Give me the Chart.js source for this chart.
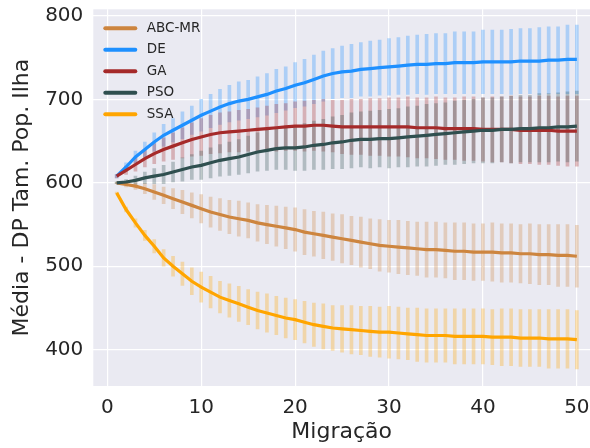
<!DOCTYPE html>
<html>
<head>
<meta charset="utf-8">
<script src="https://cdn.jsdelivr.net/npm/chart.js@4.4.0/dist/chart.umd.min.js"></script>
<style>
html, body { margin: 0; padding: 0; background: #ffffff; }
</style>
</head>
<body>
<canvas id="myChart" width="590" height="448"></canvas>
<script>
const migracao = [1,2,3,4,5,6,7,8,9,10,11,12,13,14,15,16,17,18,19,20,21,22,23,24,25,26,27,28,29,30,31,32,33,34,35,36,37,38,39,40,41,42,43,44,45,46,47,48,49,50]
const xTicks = [0, 10, 20, 30, 40, 50]
const yTicks = [400, 500, 600, 700, 800]

const series = ['ABC-MR', 'DE', 'GA', 'PSO', 'SSA']
const cores = ['#CD853F', '#1E90FF', '#A52A2A', '#2F4F4F', '#FFA500']

const abcMedia = [600,598,596,593,589,585,581,577,573,569,565,562,559,557,555,552,550,548,546,544,541,539,537,535,533,531,529,527,525,524,523,522,521,520,520,519,518,518,517,517,517,516,516,515,515,514,514,513,513,512]
const abcDP = [1,3,4,6,9,10,12,14,15,17,18,19,20,21,21,22,23,24,25,26,27,27,28,28,29,29,30,30,31,31,32,32,32,33,33,33,34,34,34,34,35,35,35,35,36,36,36,37,37,37]

const deMedia = [608,619,631,640,649,657,663,669,675,681,686,691,695,698,700,703,706,710,713,717,720,724,728,731,733,734,736,737,738,739,740,741,742,742,743,743,744,744,744,745,745,745,745,746,746,746,747,747,748,748]
const deDP = [2,5,7,9,11,13,14,16,17,19,20,21,22,23,23,24,25,26,26,27,28,29,30,30,31,32,32,33,33,34,34,35,35,36,36,36,37,37,37,38,38,38,39,39,39,40,40,40,41,41]

const gaMedia = [608,615,622,629,635,640,644,648,652,655,658,660,661,662,663,664,665,666,667,668,668,669,669,668,667,667,667,667,667,667,667,667,666,666,666,665,665,665,665,664,664,664,664,663,663,663,663,662,662,662]
const gaDP = [2,5,8,10,12,14,16,18,20,22,23,24,24,25,25,26,27,28,28,29,30,30,31,31,32,33,33,34,34,35,35,36,36,36,37,37,37,38,38,38,39,39,40,40,40,41,41,41,42,42]

const psoMedia = [600,601,603,606,608,610,613,616,619,621,624,627,629,631,634,637,639,641,642,642,643,645,646,648,649,651,652,652,653,653,654,655,656,657,658,659,660,661,662,663,663,664,664,665,665,666,666,667,667,668]
const psoDP = [1,3,5,7,9,11,12,14,15,17,18,19,20,21,22,23,24,25,26,27,28,29,30,31,32,33,33,34,34,35,35,36,36,37,37,37,38,38,38,39,39,39,40,40,40,41,41,41,42,42]

const ssaMedia = [588,568,552,537,524,510,500,491,482,475,469,463,459,455,451,447,444,441,438,436,433,430,428,426,425,424,423,422,421,421,420,419,418,417,417,417,416,416,416,416,415,415,415,414,414,414,413,413,413,412]
const ssaDP = [1,3,5,6,8,10,12,14,16,18,19,19,20,21,21,22,23,23,24,24,25,26,27,27,28,29,29,30,30,31,31,31,32,32,32,32,33,33,33,33,33,34,34,34,34,34,35,35,35,35]

const medias = [abcMedia, deMedia, gaMedia, psoMedia, ssaMedia]
const dps = [abcDP, deDP, gaDP, psoDP, ssaDP]

const FONTE = "'DejaVu Sans', sans-serif"
const TEXTO = '#262626'

function rgba(hex, a) {
    const n = parseInt(hex.slice(1), 16)
    return 'rgba(' + (n >> 16) + ',' + ((n >> 8) & 255) + ',' + (n & 255) + ',' + a + ')'
}

const datasets = []
series.forEach((nome, s) => {
    datasets.push({
        type: 'line',
        label: nome,
        data: migracao.map((x, i) => ({ x: x, y: medias[s][i] })),
        borderColor: cores[s],
        backgroundColor: cores[s],
        borderWidth: 3.2,
        pointRadius: 0,
        tension: 0,
        fill: false,
        order: 5 - s
    })
})
series.forEach((nome, s) => {
    datasets.push({
        type: 'bar',
        label: nome + ' DP',
        data: migracao.map((x, i) => ({ x: x, y: [medias[s][i] - dps[s][i], medias[s][i] + dps[s][i]] })),
        backgroundColor: rgba(cores[s], 0.3),
        borderWidth: 0,
        barThickness: 3,
        grouped: false,
        order: 20 - s
    })
})

// fundo cinza do seaborn
const fundo = {
    id: 'fundo',
    beforeDraw(chart) {
        const { ctx, chartArea: a } = chart
        ctx.save()
        ctx.fillStyle = '#EAEAF2'
        ctx.fillRect(a.left, a.top, a.right - a.left, a.bottom - a.top)
        ctx.restore()
    }
}

// legenda dentro da area do grafico, canto superior esquerdo
const legenda = {
    id: 'legenda',
    afterDraw(chart) {
        const { ctx, chartArea: a } = chart
        ctx.save()
        ctx.font = '13.5px ' + FONTE
        ctx.textBaseline = 'middle'
        ctx.lineCap = 'round'
        series.forEach((nome, s) => {
            const y = a.top + 19 + s * 21.5
            ctx.strokeStyle = cores[s]
            ctx.lineWidth = 4
            ctx.beginPath()
            ctx.moveTo(a.left + 12, y)
            ctx.lineTo(a.left + 42, y)
            ctx.stroke()
            ctx.fillStyle = TEXTO
            ctx.fillText(nome, a.left + 53.5, y)
        })
        ctx.restore()
    }
}

const config = {
    type: 'line',
    data: { datasets: datasets },
    options: {
        responsive: false,
        animation: false,
        devicePixelRatio: 1,
        layout: { padding: { top: 9.3, right: 0, bottom: 0, left: 0 } },
        plugins: { legend: { display: false }, tooltip: { enabled: false } },
        scales: {
            x: {
                type: 'linear',
                min: -1.49,
                max: 51.4,
                offset: false,
                grid: { color: '#ffffff', lineWidth: 1.2, drawTicks: false, offset: false },
                border: { display: false },
                afterBuildTicks: (scale) => { scale.ticks = xTicks.map(v => ({ value: v })) },
                ticks: { padding: 10, color: TEXTO, font: { family: FONTE, size: 20 } },
                title: { display: true, text: 'Migração', color: TEXTO, font: { family: FONTE, size: 22 }, padding: { top: 0, bottom: 3 } },
                afterFit: (scale) => { scale.height = 62; scale.paddingLeft = 0; scale.paddingRight = 0 }
            },
            y: {
                type: 'linear',
                min: 356.5,
                max: 808,
                grid: { color: '#ffffff', lineWidth: 1.2, drawTicks: false },
                border: { display: false },
                afterBuildTicks: (scale) => { scale.ticks = yTicks.map(v => ({ value: v })) },
                ticks: { padding: 10, color: TEXTO, font: { family: FONTE, size: 20 } },
                title: { display: true, text: 'Média - DP Tam. Pop. Ilha', color: TEXTO, font: { family: FONTE, size: 22 }, padding: { top: 9, bottom: 0 } },
                afterFit: (scale) => { scale.width = 93.3; scale.paddingTop = 0; scale.paddingBottom = 0 }
            }
        }
    },
    plugins: [fundo, legenda]
}

const myChart = new Chart(document.getElementById('myChart'), config)
</script>
</body>
</html>
